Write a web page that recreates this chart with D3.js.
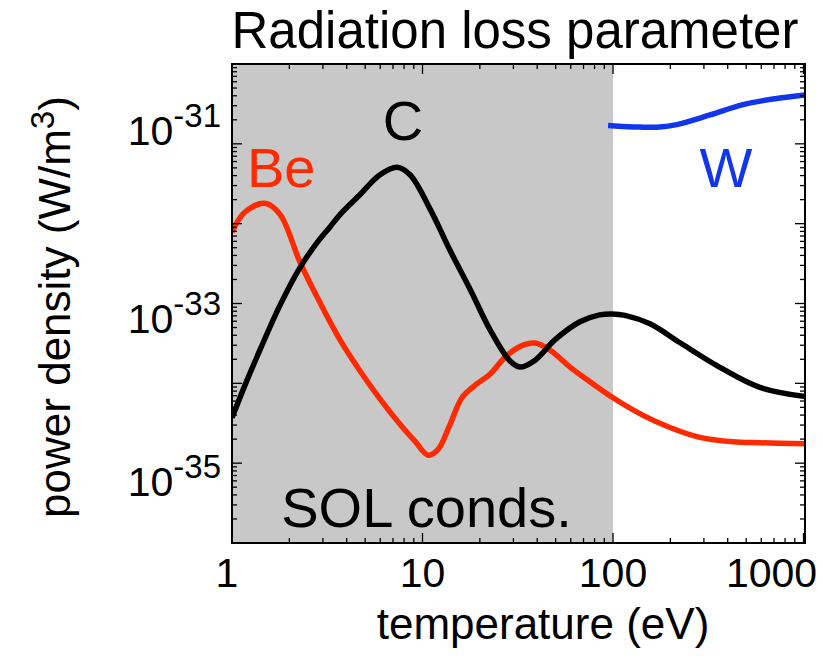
<!DOCTYPE html>
<html><head><meta charset="utf-8">
<script src="https://cdn.jsdelivr.net/npm/d3@7"></script>
<style>body{margin:0;background:#fff}svg{display:block}text{font-family:"Liberation Sans",Arial,Helvetica,sans-serif}</style>
</head><body><svg id="c" width="823" height="659"></svg>
<script>
// ---- data ----
const cT = [1,1.17,1.40,1.79,2.27,2.79,3.27,3.69,4.69,5.98,7.35,8.6,11.0,13.9,17.8,22.6,28.8,32.5,39,49.5,67,85,99,115.6,156.4,225,362,590,1030];
const cP = [3.7e-35,9.5e-35,2.6e-34,9.6e-34,2.8e-33,5.75e-33,9.1e-33,1.3e-32,2.3e-32,4.1e-32,5.1e-32,4.1e-32,1.5e-32,4.7e-33,1.5e-33,4.7e-34,1.9e-34,1.6e-34,1.95e-34,3.5e-34,5.9e-34,7.2e-34,7.4e-34,7.1e-34,5.57e-34,3.22e-34,1.6e-34,8.9e-35,6.8e-35];
const beT = [1,1.17,1.49,1.79,2.27,2.90,3.69,4.69,5.98,7.6,9.1,10.7,12.1,13.9,16.1,18.9,22.6,27,32.5,39,46.8,59.5,73.6,100,143,199,286,426,590,1016];
const beP = [7.9e-33,1.4e-32,1.8e-32,1.3e-32,3.33e-33,1.02e-33,3.5e-34,1.44e-34,6.4e-35,3.1e-35,1.9e-35,1.26e-35,1.5e-35,3.0e-35,6.6e-35,9.5e-35,1.3e-34,2.1e-34,2.9e-34,3.2e-34,2.6e-34,1.6e-34,1.1e-34,6.6e-35,4.0e-35,2.8e-35,2.1e-35,1.85e-35,1.8e-35,1.75e-35];
const wT = [94.2,138.6,176,216,323,481,722,1016];
const wP = [1.7e-31,1.62e-31,1.62e-31,1.74e-31,2.3e-31,3.1e-31,3.7e-31,4.1e-31];
const xTickVals = [1,10,100,1000];
const xTickLabels = ["1","10","100","1000"];
const yTickVals = [1e-31,1e-33,1e-35];
const yTickExp = ["-31","-33","-35"];
const solRange = [1,100];
const annText = ["Be","C","W","SOL conds."];
const annT = [1.198,7.9,392,10.5];
const annP = [2.9e-32,1.12e-31,2.9e-32,1.58e-36];

// ---- layout ----
const L=232,R=805,T=64,B=543;
const svg=d3.select("#c");
const x=d3.scaleLog().domain([1,1018]).range([L,R]);
const y=d3.scaleLog().domain([1e-36,1e-30]).range([B,T]);

// shaded SOL region
svg.append("rect").attr("x",x(solRange[0])).attr("y",T).attr("width",x(solRange[1])-x(solRange[0])).attr("height",B-T).attr("fill","#c8c8c8");

const line=d3.line().x(d=>x(d[0])).y(d=>y(d[1])).curve(d3.curveCatmullRom.alpha(0.5));
svg.append("clipPath").attr("id","cp").append("rect").attr("x",L).attr("y",T).attr("width",R-L).attr("height",B-T);
const g=svg.append("g").attr("clip-path","url(#cp)");
const lw=5.5;
g.append("path").datum(d3.zip(beT,beP)).attr("d",line).attr("fill","none").attr("stroke","#ff2a00").attr("stroke-width",lw).attr("stroke-linejoin","round");
g.append("path").datum(d3.zip(cT,cP)).attr("d",line).attr("fill","none").attr("stroke","#000").attr("stroke-width",lw).attr("stroke-linejoin","round");
g.append("path").datum(d3.zip(wT,wP)).attr("d",line).attr("fill","none").attr("stroke","#1236ee").attr("stroke-width",lw).attr("stroke-linejoin","round");

// axes ticks (inward on all sides)
const xMinor=[];for(let e=0;e<4;e++)for(let k=1;k<10;k++){const v=k*Math.pow(10,e);if(v<=1018)xMinor.push(v);}
const yMinor=[];for(let e=-36;e<-30;e++)for(let k=1;k<10;k++)yMinor.push(k*Math.pow(10,e));
yMinor.push(1e-30);
const tk=svg.append("g").attr("stroke","#000").attr("stroke-width",1.3);
xMinor.forEach(v=>{const len=(Math.abs(Math.log10(v)-Math.round(Math.log10(v)))<1e-9)?10:5;const px=x(v);
 tk.append("line").attr("x1",px).attr("x2",px).attr("y1",B).attr("y2",B-len);
 tk.append("line").attr("x1",px).attr("x2",px).attr("y1",T).attr("y2",T+len);});
yMinor.forEach(v=>{const len=(Math.abs(Math.log10(v)-Math.round(Math.log10(v)))<1e-9)?10:5;const py=y(v);
 tk.append("line").attr("y1",py).attr("y2",py).attr("x1",L).attr("x2",L+len);
 tk.append("line").attr("y1",py).attr("y2",py).attr("x1",R).attr("x2",R-len);});
svg.append("rect").attr("x",L).attr("y",T).attr("width",R-L).attr("height",B-T).attr("fill","none").attr("stroke","#000").attr("stroke-width",2);

// x tick labels
const xdx=[-5,0,0,-32];
xTickVals.forEach((v,i)=>{svg.append("text").attr("x",x(v)+xdx[i]).attr("y",587).attr("text-anchor","middle").attr("font-size",41).text(xTickLabels[i]);});
// y tick labels
const ydy=[1,29,33];
yTickVals.forEach((v,i)=>{const t=svg.append("text").attr("x",221).attr("y",y(v)+ydy[i]).attr("text-anchor","end").attr("font-size",41);
 t.append("tspan").text("10");t.append("tspan").attr("dy",-18).attr("font-size",33).text(yTickExp[i]);});

// titles
svg.append("text").attr("x",515).attr("y",48).attr("text-anchor","middle").attr("font-size",51).text("Radiation loss parameter");
svg.append("text").attr("x",543).attr("y",639).attr("text-anchor","middle").attr("font-size",44).text("temperature (eV)");
const yt=svg.append("text").attr("transform","translate(70,307) rotate(-90)").attr("text-anchor","middle").attr("font-size",44);
yt.append("tspan").text("power density (W/m");yt.append("tspan").attr("dy",-16).attr("font-size",33).text("3");yt.append("tspan").attr("dy",16).text(")");

// annotations
const annColor=["#ff2a00","#000","#1236ee","#000"];
const annAnchor=["start","middle","middle","middle"];
annText.forEach((s,i)=>{svg.append("text").attr("x",x(annT[i])).attr("y",y(annP[i])).attr("text-anchor",annAnchor[i]).attr("font-size",56).attr("fill",annColor[i]).text(s);});
</script></body></html>
